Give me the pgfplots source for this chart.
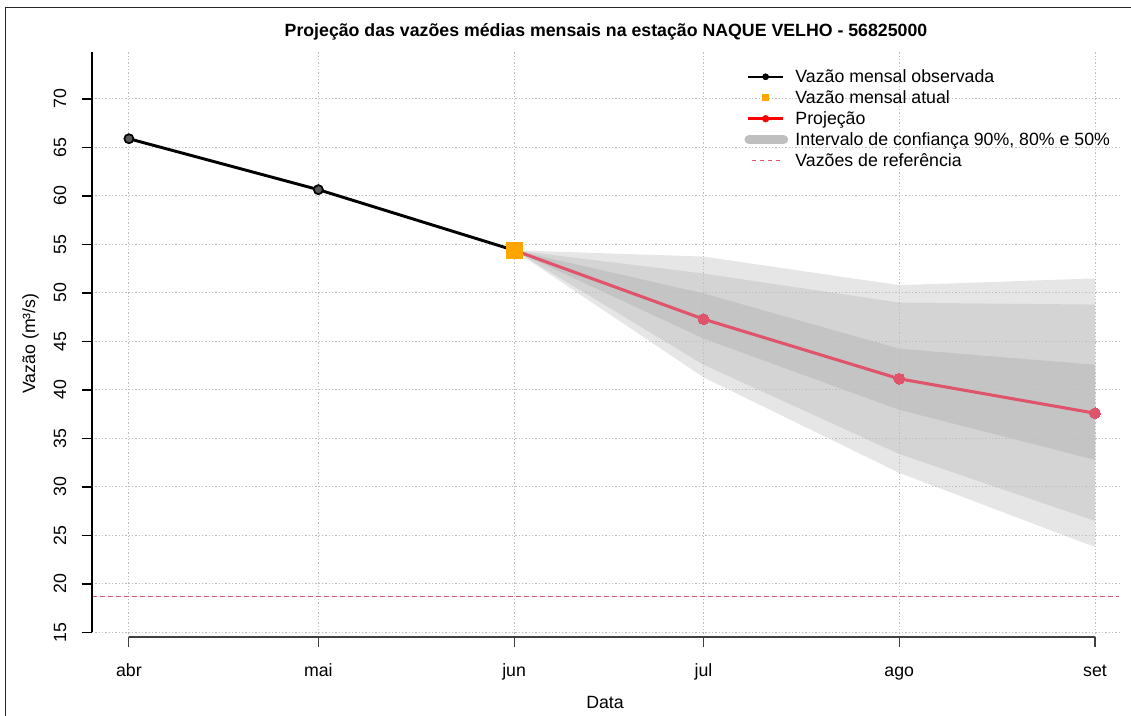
\documentclass[border=0pt]{standalone}
\usepackage{pgfplots}
\pgfplotsset{compat=1.18}
\usepackage{fontspec}
\setmainfont{Liberation Sans}
\definecolor{projred}{HTML}{DF536B}
\definecolor{bandA}{HTML}{E6E6E6}
\definecolor{bandB}{HTML}{D4D4D4}
\definecolor{bandC}{HTML}{C4C4C4}
\definecolor{gridgray}{HTML}{BEBEBE}
\definecolor{orng}{HTML}{FFA500}
\newcommand{\fs}{\fontsize{13.3}{16}\selectfont}
\begin{document}
\begin{tikzpicture}
\begin{axis}[
  at={(69pt,58.5pt)}, anchor=south west,
  scale only axis, width=770.25pt, height=438.45pt,
  xmin=-5.85, xmax=156.8, ymin=14.53, ymax=74.8,
  set layers, clip=false,
  axis line style={draw=none},
  tick pos=left, tick align=outside,
  major tick length=7.8pt,
  xtick={0,30,61,91,122,153},
  xticklabels={abr,mai,jun,jul,ago,set},
  ytick={15,20,...,70},
  xtick style={line width=0.8pt, black!75},
  ytick style={line width=1.2pt, black},
  grid=major,
  grid style={gridgray, line width=0.7pt, dash pattern=on 0.9pt off 1.6pt},
  /pgf/number format/assume math mode=true,
  ticklabel style={font=\fs},
  xticklabel style={anchor=base, yshift=-21.45pt},
  yticklabel style={xshift=-11.7pt, rotate=90, anchor=base},
  legend style={at={(0.635,0.976)}, anchor=north west, draw=none, fill=none,
    inner sep=0pt, font=\fs, row sep=0.6pt,
    /tikz/every odd column/.append style={column sep=3.5pt}},
  legend cell align=left,
]
% confidence bands
\addplot[on layer=axis background, fill=bandA, draw=none, forget plot] coordinates {
 (61,54.4) (91,53.75) (122,50.8) (153,51.5) (153,23.8) (122,31.45) (91,41.3) (61,54.4)};
\addplot[on layer=axis background, fill=bandB, draw=none, forget plot] coordinates {
 (61,54.4) (91,52.0) (122,49.0) (153,48.8) (153,26.5) (122,33.4) (91,42.6) (61,54.4)};
\addplot[on layer=axis background, fill=bandC, draw=none, forget plot] coordinates {
 (61,54.4) (91,49.95) (122,44.25) (153,42.6) (153,32.8) (122,37.95) (91,45.3) (61,54.4)};
% reference flow
\addplot[projred, line width=0.7pt, dash pattern=on 3.5pt off 2.5pt, forget plot] coordinates {(-5.85,18.75) (156.8,18.75)};
% axis lines (R style)
\draw[line width=1.2pt, black] (axis cs:-5.85,15) -- (axis cs:-5.85,74.8);
\draw[line width=0.8pt, black!75] (axis cs:0,14.53) -- (axis cs:153,14.53);
% observed
\addplot[black, line width=2.2pt, mark=*, mark size=3.4pt, mark options={fill=black!65, draw=black, line width=1.3pt}, forget plot] coordinates {(0,65.9) (30,60.65) (61,54.4)};
% projection
\addplot[projred, line width=2.3pt, mark=*, mark size=4.1pt, mark indices={2,3,4}, mark options={fill=projred, draw=projred, line width=0pt}, forget plot] coordinates {(61,54.4) (91,47.3) (122,41.15) (153,37.6)};
% current
\addplot[only marks, mark=square*, mark size=6pt, mark options={fill=orng, draw=orng}, forget plot] coordinates {(61,54.4)};
% legend
\addlegendimage{legend image code/.code={\draw[black, line width=1.8pt] (0pt,0pt) -- (26pt,0pt); \fill[black] (13pt,0pt) circle (2.3pt);}}
\addlegendentry{Vazão mensal observada}
\addlegendimage{legend image code/.code={\path[draw=none, fill=none] (0pt,0pt) rectangle (26pt,0.1pt); \fill[orng, draw=none] (10.4pt,-2.6pt) rectangle (15.6pt,2.6pt);}}
\addlegendentry{Vazão mensal atual}
\addlegendimage{legend image code/.code={\draw[red, line width=2.1pt] (0pt,0pt) -- (26pt,0pt); \fill[red] (13pt,0pt) circle (2.5pt);}}
\addlegendentry{Projeção}
\addlegendimage{legend image code/.code={\draw[black!25, line width=6.8pt, line cap=round] (0.5pt,0pt) -- (26.5pt,0pt);}}
\addlegendentry{Intervalo de confiança 90\%, 80\% e 50\%}
\addlegendimage{legend image code/.code={\path[draw=none] (0pt,0pt) -- (26pt,0pt); \draw[projred, line width=0.7pt, dash pattern=on 3.5pt off 2.5pt] (2.5pt,0pt) -- (24pt,0pt);}}
\addlegendentry{Vazões de referência}
\end{axis}
\node[font=\bfseries\fs, anchor=base] at (454.5pt,508.5pt) {Projeção das vazões médias mensais na estação NAQUE VELHO - 56825000};
\node[font=\fs, anchor=base] at (453.75pt,5.25pt) {Data};
\node[font=\fs, anchor=base, rotate=90] at (26.25pt,278.6pt) {Vazão (m³/s)};
\draw[line width=1.2pt, black!85] (4.125pt,-8pt) -- (4.125pt,530.6pt) -- (860pt,530.6pt);
\pgfresetboundingbox
\path (0pt,0pt) rectangle (848.25pt,536.25pt);
\end{tikzpicture}
\end{document}
